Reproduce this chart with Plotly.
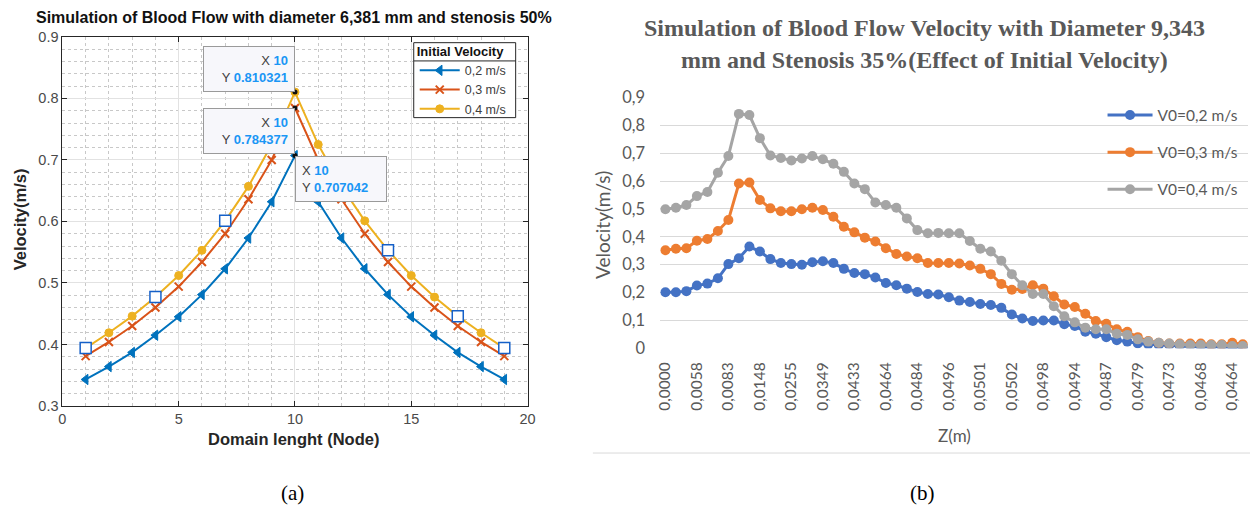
import plotly.graph_objects as go

W, H = 1258, 513


def px(x):
    return x / W


def py(y):
    return 1 - y / H


# ---------------- data: chart (a) ----------------
node = list(range(1, 20))
v02 = [0.343, 0.364, 0.387, 0.415, 0.445, 0.481, 0.523, 0.573, 0.632, 0.707042,
       0.632, 0.573, 0.523, 0.481, 0.445, 0.415, 0.387, 0.364, 0.343]
v03 = [0.381, 0.404, 0.430, 0.460, 0.494, 0.534, 0.580, 0.636, 0.700, 0.784377,
       0.700, 0.636, 0.580, 0.534, 0.494, 0.460, 0.430, 0.404, 0.381]
v04 = [0.394, 0.419, 0.446, 0.477, 0.512, 0.553, 0.601, 0.657, 0.725, 0.810321,
       0.725, 0.657, 0.601, 0.553, 0.512, 0.477, 0.446, 0.419, 0.394]
names_a = ["0,2 m/s", "0,3 m/s", "0,4 m/s"]
tip_nodes = [1, 4, 7, 14, 17, 19]

# ---------------- data: chart (b) ----------------
b02 = [0.201, 0.201, 0.205, 0.225, 0.232, 0.251, 0.302, 0.323, 0.365, 0.347,
       0.320, 0.306, 0.302, 0.300, 0.309, 0.312, 0.306, 0.285, 0.270, 0.266,
       0.254, 0.234, 0.226, 0.214, 0.202, 0.195, 0.193, 0.183, 0.171, 0.166,
       0.159, 0.155, 0.145, 0.121, 0.107, 0.098, 0.100, 0.100, 0.086, 0.080,
       0.059, 0.052, 0.040, 0.029, 0.024, 0.017, 0.014, 0.012, 0.012, 0.008,
       0.008, 0.005, 0.005, 0.005, 0.002, 0.002]
b03 = [0.352, 0.357, 0.359, 0.386, 0.392, 0.421, 0.460, 0.591, 0.595, 0.532,
       0.502, 0.492, 0.492, 0.499, 0.504, 0.496, 0.472, 0.436, 0.416, 0.397,
       0.383, 0.359, 0.338, 0.329, 0.323, 0.306, 0.306, 0.306, 0.304, 0.297,
       0.285, 0.266, 0.231, 0.210, 0.213, 0.226, 0.214, 0.187, 0.157, 0.148,
       0.124, 0.098, 0.088, 0.068, 0.059, 0.040, 0.026, 0.020, 0.017, 0.017,
       0.017, 0.017, 0.014, 0.014, 0.020, 0.014]
b04 = [0.499, 0.504, 0.514, 0.546, 0.561, 0.630, 0.690, 0.841, 0.837, 0.754,
       0.692, 0.683, 0.674, 0.681, 0.690, 0.678, 0.662, 0.633, 0.591, 0.571,
       0.523, 0.514, 0.504, 0.466, 0.424, 0.413, 0.414, 0.413, 0.413, 0.385,
       0.357, 0.347, 0.314, 0.266, 0.226, 0.195, 0.195, 0.151, 0.115, 0.093,
       0.074, 0.068, 0.068, 0.052, 0.048, 0.032, 0.024, 0.020, 0.017, 0.014,
       0.012, 0.012, 0.012, 0.012, 0.008, 0.008]
z_index = list(range(len(b02)))
z_labels = ["0,0000", "0,0058", "0,0083", "0,0148", "0,0255", "0,0349", "0,0433",
            "0,0464", "0,0484", "0,0496", "0,0501", "0,0502", "0,0498", "0,0494",
            "0,0487", "0,0479", "0,0473", "0,0468", "0,0464"]
names_b = ["V0=0,2 m/s", "V0=0,3 m/s", "V0=0,4 m/s"]
y_ticks_b = [0, 0.1, 0.2, 0.3, 0.4, 0.5, 0.6, 0.7, 0.8, 0.9]
y_text_b = ["0", "0,1", "0,2", "0,3", "0,4", "0,5", "0,6", "0,7", "0,8", "0,9"]

# ---------------- figure ----------------
fig = go.Figure()

cols_a = ["#0072BD", "#D95319", "#EDB120"]
syms_a = ["triangle-left", "x-thin", "circle"]
sizes_a = [9, 8, 8]
for name, vals, c, s, sz in zip(names_a, [v02, v03, v04], cols_a, syms_a, sizes_a):
    fig.add_trace(go.Scatter(
        x=node, y=vals, mode="lines+markers", name=name,
        line=dict(color=c, width=2),
        marker=dict(symbol=s, size=sz, color=c, line=dict(color=c, width=2 if s == "x-thin" else 1)),
        xaxis="x", yaxis="y", legend="legend", hoverinfo="skip"))

# data-tip squares
fig.add_trace(go.Scatter(
    x=tip_nodes, y=[v04[n - 1] for n in tip_nodes], mode="markers", showlegend=False,
    marker=dict(symbol="square", size=11, color="white", line=dict(color="#1560c8", width=1.5)),
    xaxis="x", yaxis="y", hoverinfo="skip"))
# peak dots
fig.add_trace(go.Scatter(
    x=[10, 10, 10], y=[v04[9], v03[9], v02[9]], mode="markers", showlegend=False,
    marker=dict(size=5, color="#111111"), xaxis="x", yaxis="y", hoverinfo="skip"))

cols_b = ["#4472C4", "#ED7D31", "#A5A5A5"]
for i, (name, vals, c) in enumerate(zip(names_b, [b02, b03, b04], cols_b)):
    fig.add_trace(go.Scatter(
        x=z_index, y=vals, mode="lines+markers", name=name,
        line=dict(color=c, width=3), marker=dict(size=10, color=c),
        xaxis="x2", yaxis="y2", legend="legend2", legendgroup="g%d" % i, hoverinfo="skip"))

sans = "Liberation Sans"
axc = "#262626"
grey_b = "#595959"

annotations = [
    dict(text="<b>Simulation of Blood Flow with diameter 6,381 mm and stenosis 50%</b>",
         x=px(292), y=py(8), font=dict(family=sans, size=16, color="#111111")),
    dict(text="<b>Domain lenght (Node)</b>", x=px(292), y=py(446),
         font=dict(family=sans, size=16.5, color=axc)),
    dict(text="<b>Velocity(m/s)</b>", x=px(15), y=py(218), textangle=-90,
         font=dict(family=sans, size=16.5, color=axc)),
    dict(text="<b>Simulation of Blood Flow Velocity with Diameter 9,343</b>", x=px(929), y=py(19),
         font=dict(family="Liberation Serif", size=24, color=grey_b)),
    dict(text="<b>mm and Stenosis 35%(Effect of Initial Velocity)</b>", x=px(929), y=py(52),
         font=dict(family="Liberation Serif", size=24, color=grey_b)),
    dict(text="Velocity(m/s)", x=px(603), y=py(224), textangle=-90,
         font=dict(family="Lato", size=19, color=grey_b)),
    dict(text="Z(m)", x=px(959), y=py(443),
         font=dict(family="Lato", size=17, color=grey_b)),
    dict(text="(a)", x=px(290), y=py(503), font=dict(family="Liberation Serif", size=21, color="black")),
    dict(text="(b)", x=px(927), y=py(503), font=dict(family="Liberation Serif", size=21, color="black")),
]
for a in annotations:
    a.update(xref="paper", yref="paper", showarrow=False, xanchor="center", yanchor="middle")

# data tips
tipfont = dict(family=sans, size=13, color="#404040")
blue = "#1a96f5"
tips = [
    (v04[9], "right", "bottom", "right"),
    (v03[9], "right", "top", "right"),
    (v02[9], "left", "top", "left"),
]
for val, xa, ya, al in tips:
    annotations.append(dict(
        x=10, y=val, xref="x", yref="y", showarrow=False, xanchor=xa, yanchor=ya, align=al,
        text="X <b><span style='color:%s'>10</span></b><br>Y <b><span style='color:%s'>%.6f</span></b>" % (blue, blue, val),
        font=tipfont, bgcolor="#f7f7fb", bordercolor="#9a9a9a", borderwidth=1, borderpad=6,
        width=78))

# legend frame for (a) + chart border line for (b)
lg_l, lg_r, lg_t, lg_b = 413, 516, 34, 112
shapes = [
    dict(type="rect", xref="paper", yref="paper", layer="above",
         x0=px(lg_l), x1=px(lg_r), y0=py(lg_b), y1=py(lg_t),
         line=dict(color=axc, width=1), fillcolor="white"),
    dict(type="line", xref="paper", yref="paper", layer="above",
         x0=px(lg_l), x1=px(lg_r), y0=py(lg_t + 19), y1=py(lg_t + 19),
         line=dict(color=axc, width=1)),
    dict(type="line", xref="paper", yref="paper", x0=px(594), x1=px(1258), y0=py(461), y1=py(461),
         line=dict(color="#d9d9d9", width=1)),
]

fig.update_layout(
    width=W, height=H, margin=dict(l=0, r=0, t=0, b=0),
    paper_bgcolor="white", plot_bgcolor="white",
    annotations=annotations, shapes=shapes,
    xaxis=dict(domain=[px(58), px(528)], range=[0, 20], dtick=5, anchor="y",
               showline=True, mirror="allticks", linecolor=axc, linewidth=1,
               ticks="inside", ticklen=5, tickcolor=axc, zeroline=False,
               showgrid=True, gridcolor="#e2e2e2",
               minor=dict(dtick=1, showgrid=True, griddash="dot", gridcolor="#c8c8c8", gridwidth=1),
               tickfont=dict(family=sans, size=14.5, color="#4a4a4a")),
    yaxis=dict(domain=[py(412), py(28)], range=[0.3, 0.9], dtick=0.1, tickformat=".1f", anchor="x",
               showline=True, mirror="allticks", linecolor=axc, linewidth=1,
               ticks="inside", ticklen=5, tickcolor=axc, zeroline=False,
               showgrid=True, gridcolor="#e2e2e2",
               minor=dict(dtick=0.02, showgrid=True, griddash="dot", gridcolor="#c8c8c8", gridwidth=1),
               tickfont=dict(family=sans, size=14.5, color="#4a4a4a")),
    xaxis2=dict(domain=[px(662), px(1256)], range=[-0.5, 55.5], anchor="y2",
                tickmode="array", tickvals=list(range(0, 56, 3)), ticktext=z_labels, tickangle=-90,
                showgrid=False, showline=False, zeroline=False, ticks="",
                ticklabelstandoff=10,
                tickfont=dict(family="Lato", size=15.5, color=grey_b)),
    yaxis2=dict(domain=[py(352), py(91)], range=[0, 0.9], anchor="x2",
                tickmode="array", tickvals=y_ticks_b, ticktext=y_text_b,
                showgrid=True, gridcolor="#d9d9d9", gridwidth=1, zeroline=False, showline=False,
                ticks="", ticklabelstandoff=14,
                tickfont=dict(family="Lato", size=16.5, color=grey_b)),
    legend=dict(x=px(lg_l + 1), y=py(lg_t - 4), xanchor="left", yanchor="top",
                bgcolor="rgba(0,0,0,0)", borderwidth=0, itemwidth=40,
                title=dict(text="<b>Initial Velocity</b>", font=dict(family=sans, size=13, color="#111111")),
                font=dict(family=sans, size=12.5, color="#404040"), tracegroupgap=0),
    legend2=dict(x=px(1109), y=py(92), xanchor="left", yanchor="top",
                 bgcolor="rgba(0,0,0,0)", borderwidth=0, tracegroupgap=14, itemwidth=45,
                 font=dict(family="Lato", size=15.5, color=grey_b)),
)

fig.write_html("out.html")
